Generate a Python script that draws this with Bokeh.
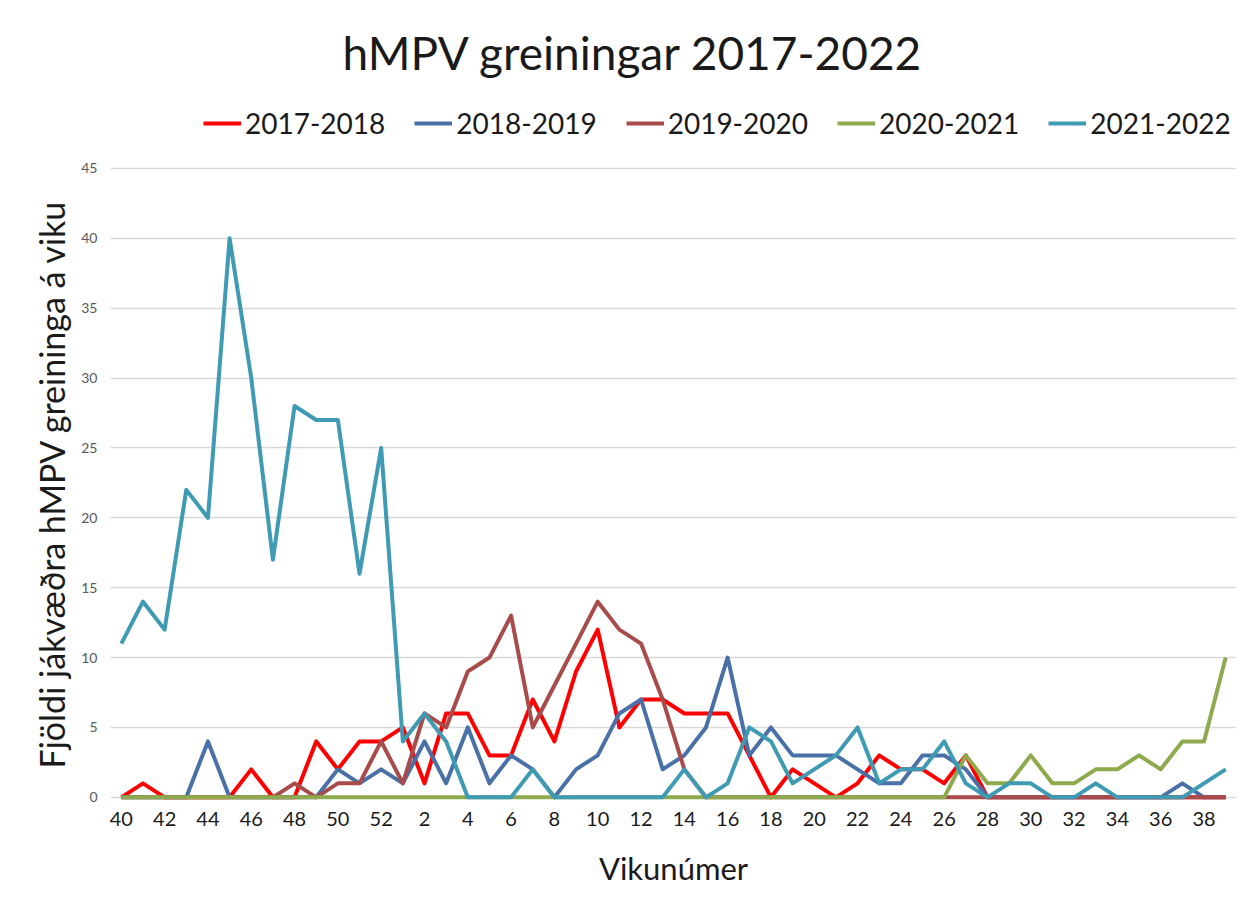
from bokeh.plotting import figure
from bokeh.models import Range1d, FixedTicker, Legend, LegendItem, Title
from bokeh.embed import file_html
from bokeh.resources import INLINE

# ---- data ----
weeks = list(range(40, 53)) + list(range(1, 40))
seasons = ["2017-2018", "2018-2019", "2019-2020", "2020-2021", "2021-2022"]

s2017_2018 = [0, 1, 0, 0, 0, 0, 2, 0, 0, 4, 2, 4, 4,
              5, 1, 6, 6, 3, 3, 7, 4, 9, 12, 5, 7, 7, 6, 6, 6, 3, 0, 2, 1, 0, 1, 3, 2, 2, 1, 3, 0,
              0, 0, 0, 0, 0, 0, 0, 0, 0, 0, 0]
s2018_2019 = [0, 0, 0, 0, 4, 0, 0, 0, 0, 0, 2, 1, 2,
              1, 4, 1, 5, 1, 3, 2, 0, 2, 3, 6, 7, 2, 3, 5, 10, 3, 5, 3, 3, 3, 2, 1, 1, 3, 3, 2, 0,
              0, 0, 0, 0, 0, 0, 0, 0, 1, 0, 0]
s2019_2020 = [0, 0, 0, 0, 0, 0, 0, 0, 1, 0, 1, 1, 4,
              1, 6, 5, 9, 10, 13, 5, 8, 11, 14, 12, 11, 7, 2, 0, 0, 0, 0, 0, 0, 0, 0, 0, 0, 0, 0, 0, 0,
              0, 0, 0, 0, 0, 0, 0, 0, 0, 0, 0]
s2020_2021 = [0, 0, 0, 0, 0, 0, 0, 0, 0, 0, 0, 0, 0,
              0, 0, 0, 0, 0, 0, 0, 0, 0, 0, 0, 0, 0, 0, 0, 0, 0, 0, 0, 0, 0, 0, 0, 0, 0, 0, 3, 1,
              1, 3, 1, 1, 2, 2, 3, 2, 4, 4, 10]
s2021_2022 = [11, 14, 12, 22, 20, 40, 30, 17, 28, 27, 27, 16, 25,
              4, 6, 4, 0, 0, 0, 2, 0, 0, 0, 0, 0, 0, 2, 0, 1, 5, 4, 1, 2, 3, 5, 1, 2, 2, 4, 1, 0,
              1, 1, 0, 0, 1, 0, 0, 0, 0, 1, 2]
y_ticks = [0, 5, 10, 15, 20, 25, 30, 35, 40, 45]

series = [s2017_2018, s2018_2019, s2019_2020, s2020_2021, s2021_2022]
colors = ["#FF0000", "#4A70A8", "#A84B4B", "#8DAA4E", "#3F9AB3"]

FONT = "Lato"
x = list(range(len(weeks)))

# frame extended above 45 to hold the legend (no ticks/grid there)
p = figure(width=1236, height=900, output_backend="svg", toolbar_location=None,
           x_range=Range1d(-0.5, len(weeks) - 0.5), y_range=Range1d(-0.3, 49.86),
           min_border_left=110, min_border_right=0, min_border_top=100, min_border_bottom=99,
           title=None)
p.outline_line_color = None
p.background_fill_color = "white"
p.border_fill_color = "white"

renderers = []
for s, c in zip(series, colors):
    r = p.line(x, s, line_color=c, line_width=4, line_join="round")
    renderers.append(r)

# axes
p.xaxis.ticker = FixedTicker(ticks=list(range(0, len(weeks), 2)))
p.xaxis.major_label_overrides = {i: str(weeks[i]) for i in range(0, len(weeks), 2)}
p.xaxis.axis_line_color = None
p.xaxis.major_tick_line_color = None
p.xaxis.minor_tick_line_color = None
p.xaxis.major_label_text_font = FONT
p.xaxis.major_label_text_font_size = "20px"
p.xaxis.major_label_text_color = "#1a1a1a"
p.xaxis.major_label_standoff = 4
p.xaxis.axis_label = "Vikunúmer"
p.xaxis.axis_label_text_font = FONT
p.xaxis.axis_label_text_font_size = "31px"
p.xaxis.axis_label_text_font_style = "normal"
p.xaxis.axis_label_text_color = "#1a1a1a"
p.xaxis.axis_label_standoff = 20

p.yaxis.ticker = FixedTicker(ticks=y_ticks)
p.yaxis.axis_line_color = None
p.yaxis.major_tick_line_color = None
p.yaxis.minor_tick_line_color = None
p.yaxis.major_tick_out = 0
p.yaxis.major_label_text_font = FONT
p.yaxis.major_label_text_font_size = "14px"
p.yaxis.major_label_text_color = "#595959"
p.yaxis.major_label_standoff = 13

p.xgrid.grid_line_color = None
p.ygrid.grid_line_color = "#d9d9d9"
p.ygrid.grid_line_width = 1.3

# y-axis title (placed on the left side panel)
ytitle = Title(text="Fjöldi jákvæðra hMPV greininga á viku", align="left", offset=33,
               text_font=FONT, text_font_size="34px", text_font_style="normal",
               text_color="#1a1a1a", standoff=14)
p.add_layout(ytitle, "left")

legend = Legend(items=[LegendItem(label=lab, renderers=[r]) for lab, r in zip(seasons, renderers)],
                orientation="horizontal", location=(93, 661),
                border_line_color=None, background_fill_alpha=0,
                label_text_font=FONT, label_text_font_size="28px", label_text_color="#1a1a1a",
                glyph_width=38, glyph_height=20, label_standoff=4, spacing=29,
                padding=0, margin=0)
p.add_layout(legend, "center")

title = Title(text="hMPV greiningar  2017-2022", align="left", offset=232,
              text_font=FONT, text_font_size="46px", text_font_style="normal",
              text_color="#1a1a1a", standoff=42)
p.add_layout(title, "above")

open("out.html", "w").write(file_html(p, INLINE))
